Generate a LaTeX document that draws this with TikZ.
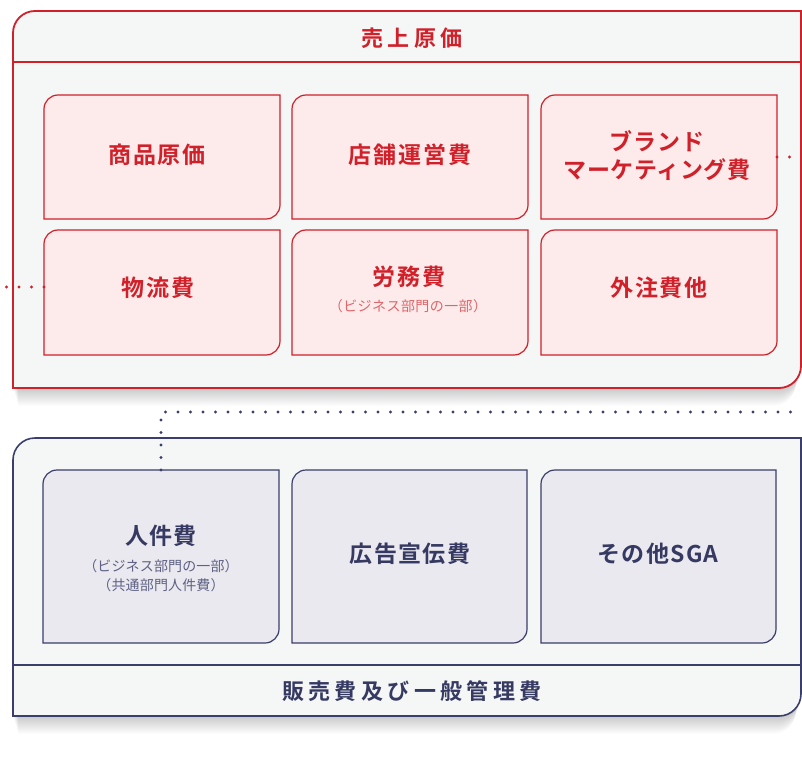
\documentclass[tikz,border=0pt]{standalone}
\usepackage{fontspec}
\setmainfont{Noto Sans CJK JP}[BoldFont={Noto Sans CJK JP Bold}]
\definecolor{cRed}{HTML}{D0202A}
\definecolor{cRedFill}{HTML}{FDEBEB}
\definecolor{cRedSub}{HTML}{E06569}
\definecolor{cBg}{HTML}{F5F7F7}
\definecolor{cNavy}{HTML}{3B3E6B}
\definecolor{cNavyFill}{HTML}{EAE9EF}
\definecolor{cNavyText}{HTML}{363A62}
\definecolor{cNavySub}{HTML}{5E6185}
% box with rounded top-left and bottom-right corners
\newcommand\cornerbox[6]{\path[#1] (#2,#5) -- (#2,#3+#6) .. controls (#2,#3+0.448*#6) and (#2+0.448*#6,#3) .. (#2+#6,#3) -- (#4,#3) -- (#4,#5-#6) .. controls (#4,#5-0.448*#6) and (#4-0.448*#6,#5) .. (#4-#6,#5) -- cycle;}
\newcommand\softshadow[5]{\foreach \k in {1,...,18}{\cornerbox{fill=black,fill opacity=0.013}{#1+0.3*\k}{#2+\k}{#3-0.3*\k}{#4+\k}{#5}}}
\tikzset{
  outerred/.style={draw=cRed, line width=1.8pt, fill=cBg},
  outernavy/.style={draw=cNavy, line width=1.6pt, fill=cBg},
  innerred/.style={draw=cRed, line width=1.2pt, fill=cRedFill},
  innernavy/.style={draw=cNavy, line width=1.2pt, fill=cNavyFill},
  redrule/.style={draw=cRed, line width=1.3pt},
  navyrule/.style={draw=cNavy, line width=1.3pt},
  slot/.style={rectangle, inner sep=0pt, outer sep=0pt, minimum width=236pt, minimum height=#1},
  slot/.default=124pt,
  titleR/.style={text=cRed, inner sep=0pt, font=\fontsize{22}{26}\selectfont\bfseries\addfontfeatures{LetterSpace=20}},
  titleN/.style={text=cNavyText, inner sep=0pt, font=\fontsize{22}{26}\selectfont\bfseries\addfontfeatures{LetterSpace=20}},
  mainR/.style={text=cRed, inner sep=0pt, font=\fontsize{23}{27}\selectfont\bfseries\addfontfeatures{LetterSpace=8}},
  brandR/.style={text=cRed, inner sep=0pt, font=\fontsize{23}{27}\selectfont\bfseries\addfontfeatures{LetterSpace=3}},
  mainN/.style={text=cNavyText, inner sep=0pt, font=\fontsize{23}{27}\selectfont\bfseries\addfontfeatures{LetterSpace=6}},
  subR/.style={text=cRedSub, inner sep=0pt, font=\fontsize{14}{17}\selectfont\addfontfeatures{LetterSpace=3}},
  subN/.style={text=cNavySub, inner sep=0pt, font=\fontsize{14}{17}\selectfont\addfontfeatures{LetterSpace=1}},
  reddots/.style={draw=cRed, line width=3.2pt, dash pattern=on 0pt off 12.5pt, line cap=round},
  navydots/.style={draw=cNavy, line width=3.2pt, dash pattern=on 0pt off 12.5pt, line cap=round},
}
\begin{document}
\begin{tikzpicture}[x=1pt,y=-1pt]
\useasboundingbox (0,0) rectangle (802,762);
\fill[white] (0,0) rectangle (802,762);

% ---------- 売上原価 ----------
\softshadow{13}{11}{801}{388}{22}
\cornerbox{outerred}{13}{11}{801}{388}{22}
\draw[redrule] (13,62) -- (801,62);
\node[titleR] (cogsT) at (412,38) {売上原価};

\cornerbox{innerred}{44}{95}{280}{219}{14}
\cornerbox{innerred}{292}{95}{528}{219}{14}
\cornerbox{innerred}{541}{95}{777}{219}{14}
\cornerbox{innerred}{44}{230}{280}{355}{14}
\cornerbox{innerred}{292}{230}{528}{355}{14}
\cornerbox{innerred}{541}{230}{777}{355}{14}

\node[slot] (shohin) at (162,157) {};
\node[slot] (tenpo) at (410,157) {};
\node[slot] (brand) at (659,157) {};
\node[slot=125pt] (butsuryu) at (162,292.5) {};
\node[slot=125pt] (romu) at (410,292.5) {};
\node[slot=125pt] (gaichu) at (659,292.5) {};

\node[mainR] (shohinT) at (157,155) {商品原価};
\node[mainR] (tenpoT) at (410,155) {店舗運営費};
\node[brandR] (brandT1) at (657,141) {ブランド};
\node[brandR] (brandT2) at (657,170) {マーケティング費};
\node[mainR] (butsuryuT) at (158,288) {物流費};
\node[mainR] (romuT) at (409,277) {労務費};
\node[subR] (romuS) at (408,306) {（ビジネス部門の一部）};
\node[mainR] (gaichuT) at (659,288) {外注費他};

\coordinate (rightR) at (802,157);
\coordinate (leftR) at (0,287);
\draw[reddots] (brand.east) -- (rightR);
\draw[reddots] (butsuryu.west |- leftR) -- (leftR);

% ---------- 販売費及び一般管理費 ----------
\softshadow{13}{438}{801}{716}{22}
\cornerbox{outernavy}{13}{438}{801}{716}{22}
\draw[navyrule] (13,665) -- (801,665);
\node[titleN] (sgaT) at (412,691) {販売費及び一般管理費};

\cornerbox{innernavy}{43}{470}{279}{643}{14}
\cornerbox{innernavy}{292}{470}{527}{643}{14}
\cornerbox{innernavy}{541}{470}{776}{643}{14}

\node[slot=173pt] (jinken) at (161,556.5) {};
\node[slot=173pt] (kokoku) at (409.5,556.5) {};
\node[slot=173pt] (sonota) at (658.5,556.5) {};

\node[mainN] (jinkenT) at (161,536) {人件費};
\node[subN] (jinkenS1) at (161,566) {（ビジネス部門の一部）};
\node[subN] (jinkenS2) at (161,585) {（共通部門人件費）};
\node[mainN] (kokokuT) at (410,554) {広告宣伝費};
\node[mainN] (sonotaT) at (658,554) {その他SGA};

\coordinate (rightN) at (802,412);
\draw[navydots] (jinken.north) |- (rightN);
\end{tikzpicture}
\end{document}
